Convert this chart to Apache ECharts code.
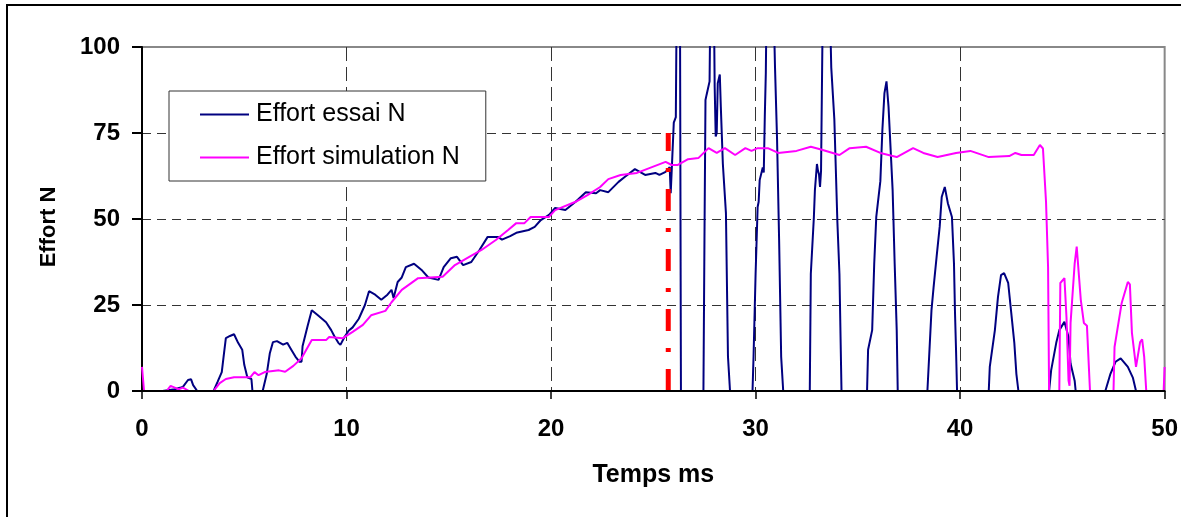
<!DOCTYPE html>
<html>
<head>
<meta charset="utf-8">
<script src="https://cdn.jsdelivr.net/npm/echarts@6/dist/echarts.min.js"></script>
<style>
  html, body { margin: 0; padding: 0; background: #fff; }
  #chart { width: 1181px; height: 517px; }
</style>
</head>
<body>
<div id="chart"></div>
<script>
var dom = document.getElementById("chart");
var myChart = echarts.init(dom);

var FONT = "'Liberation Sans', Arial, sans-serif";

// Temps (ms), Effort (N) - essai
var essaiData = [
    [0, 0], [1.0, 0], [1.6, 0.5], [1.9, 1], [2.0, 1.2], [2.25, 3.2], [2.4, 3.4], [2.5, 1.7], [2.7, 0], [3.5, 0],
    [3.7, 2.7], [3.9, 5.5], [4.0, 10.5], [4.1, 15.4], [4.3, 16], [4.5, 16.5], [4.7, 14], [4.9, 12], [5.0, 7.6],
    [5.15, 4], [5.35, 3.5], [5.4, 0], [5.9, 0],
    [6.1, 5], [6.25, 11], [6.4, 14.2], [6.6, 14.5], [6.9, 13.5], [7.1, 14], [7.3, 12], [7.5, 10], [7.7, 8.5], [7.8, 8.5],
    [7.85, 13], [8.1, 19], [8.3, 23.5], [8.6, 22], [8.8, 21], [9.0, 20], [9.25, 17.7], [9.4, 16], [9.6, 14],
    [9.7, 13.4], [9.9, 15.7], [10.1, 17.5], [10.3, 18.5], [10.6, 21], [10.9, 25], [11.1, 29], [11.4, 28],
    [11.7, 26.5], [12.0, 28], [12.2, 29.4], [12.3, 27], [12.5, 31.7], [12.7, 33], [12.9, 36], [13.3, 37],
    [13.7, 35], [14.0, 33], [14.5, 32.3], [14.75, 36], [15.1, 38.6], [15.4, 39], [15.7, 36.6], [16.1, 37.5],
    [16.5, 41], [16.9, 44.8], [17.4, 44.8], [17.6, 44], [18.0, 45], [18.3, 46], [18.9, 46.8], [19.2, 47.7],
    [19.5, 49.7], [19.9, 51.2], [20.2, 53.2], [20.7, 52.6], [21.2, 55], [21.7, 57.8], [22.2, 57.5], [22.4, 58.4],
    [22.8, 57.8], [23.3, 60.8], [23.6, 62.2], [24.1, 64.5], [24.6, 62.8], [25.1, 63.4], [25.3, 62.8], [25.6, 63.7],
    [25.8, 65.1], [25.85, 57.5], [25.9, 64.2], [26.0, 78], [26.1, 79.6], [26.15, 120],
    [26.3, 120], [26.35, 0], [27.45, 0],
    [27.5, 44], [27.55, 84.6], [27.6, 86], [27.75, 90], [27.8, 120], [27.95, 120], [28.0, 88.4], [28.05, 74],
    [28.1, 75], [28.15, 89.5], [28.25, 92], [28.3, 82.6], [28.4, 66], [28.55, 51.7], [28.65, 10], [28.75, 0],
    [29.85, 0], [29.9, 10], [30.0, 34], [30.1, 53.5], [30.15, 55], [30.2, 61.3], [30.35, 65], [30.4, 63.5],
    [30.45, 79.7], [30.5, 92.4], [30.55, 120], [30.85, 120], [30.95, 94], [31.05, 73], [31.15, 44], [31.25, 10], [31.35, 0],
    [32.65, 0], [32.7, 34], [32.85, 50.6], [32.9, 58.4], [33.0, 66], [33.05, 64], [33.1, 63], [33.15, 59.3],
    [33.2, 64], [33.3, 120], [33.6, 120], [33.7, 94], [33.85, 79], [34.0, 49], [34.1, 34], [34.2, 0],
    [35.45, 0], [35.5, 12], [35.7, 17.7], [35.8, 37], [35.9, 50.6], [36.1, 61], [36.2, 76], [36.3, 86.6],
    [36.4, 90], [36.5, 82.6], [36.7, 58.4], [36.8, 37], [36.9, 17.7], [36.95, 0],
    [38.4, 0], [38.6, 23.5], [38.7, 30], [38.85, 39], [39.0, 47.7], [39.1, 56.4], [39.25, 59.3], [39.4, 54.6],
    [39.6, 50.6], [39.7, 37], [39.75, 22.7], [39.8, 12], [39.85, 0],
    [41.4, 0], [41.45, 7], [41.7, 17.7], [41.85, 27.3], [42.0, 33.7], [42.15, 34.3], [42.35, 31.4], [42.5, 22.7],
    [42.65, 14], [42.75, 5], [42.85, 0],
    [44.35, 0], [44.45, 6], [44.7, 14], [44.85, 17.7], [45.1, 20.1], [45.3, 15.7], [45.4, 8], [45.6, 3], [45.65, 0],
    [47.1, 0], [47.35, 5], [47.6, 8.5], [47.85, 9.5], [48.2, 7], [48.45, 3.8], [48.6, 0], [50, 0]
];

// Temps (ms), Effort (N) - simulation
var simulationData = [
    [0, 7], [0.1, 0], [1.2, 0], [1.4, 1.5], [1.6, 1], [1.8, 0.5], [2.0, 1], [2.3, 0], [3.5, 0], [3.8, 2.3],
    [4.1, 3.5], [4.5, 4], [5.3, 4], [5.5, 5.5], [5.7, 4.6], [6.0, 5.5], [6.7, 6], [7.0, 5.6], [7.4, 7.3],
    [7.8, 9.5], [8.3, 14.8], [9.0, 14.8], [9.15, 15.7], [9.8, 15.3], [10.3, 17.2], [10.8, 19.2], [11.2, 22],
    [11.9, 23.3], [12.2, 25.8], [12.7, 29.4], [13.5, 32.8], [14.7, 33.2], [15.3, 36.6], [16.0, 39], [16.6, 41],
    [17.3, 43.9], [17.9, 46.8], [18.3, 48.8], [18.7, 48.8], [19.0, 50.6], [19.9, 50.6], [20.2, 52.6], [21.2, 55],
    [21.8, 57], [22.4, 59.3], [22.8, 61.6], [23.4, 62.8], [24.2, 63.4], [24.9, 65], [25.6, 66.6], [25.9, 65.7],
    [26.2, 65.7], [26.7, 67.4], [27.2, 67.7], [27.7, 70.6], [28.1, 69.2], [28.5, 70.6], [29.0, 68.6], [29.5, 70.6],
    [29.8, 69.8], [30.1, 70.6], [30.6, 70.6], [31.1, 69.2], [32.0, 69.8], [32.7, 71], [33.2, 70.2], [34.1, 68.6],
    [34.6, 70.6], [35.4, 71], [36.1, 69.2], [36.9, 68], [37.7, 70.6], [38.2, 69.2], [38.9, 68], [39.8, 69.2],
    [40.5, 69.8], [41.4, 68], [42.4, 68.3], [42.7, 69.2], [43.0, 68.6], [43.6, 68.6], [43.9, 71.5], [44.05, 70.5],
    [44.2, 55], [44.3, 36], [44.35, 0], [44.85, 0], [44.9, 31.4], [45.1, 32.8], [45.2, 21.5], [45.3, 3],
    [45.35, 1.5], [45.4, 19.8], [45.6, 37], [45.7, 42], [45.75, 42], [45.9, 26.5], [46.05, 19.8], [46.2, 19],
    [46.35, 0], [47.5, 0], [47.55, 12.8], [47.9, 25.6], [48.2, 31.7], [48.3, 31], [48.4, 16.9], [48.6, 7],
    [48.65, 7.5], [48.8, 14.2], [48.9, 15], [49.0, 9.9], [49.1, 0], [49.95, 0], [50, 7]
];

// repere vertical (trait rouge)
var repereData = [[25.73, 0], [25.73, 75]];

var option = {
    animation: false,
    backgroundColor: '#fff',
    graphic: [{
        type: 'rect',
        shape: {x: 7, y: 5, width: 1200, height: 600},
        style: {fill: 'none', stroke: '#000', lineWidth: 2},
        silent: true
    }],
    grid: {
        left: 142, top: 47, width: 1025, height: 344,
        show: true,
        borderColor: '#888',
        borderWidth: 2
    },
    legend: {
        orient: 'vertical',
        left: 169, top: 91,
        data: ['Effort essai N', 'Effort simulation N'],
        icon: 'rect',
        itemWidth: 49,
        itemHeight: 2,
        itemGap: 18,
        padding: [11, 26, 11, 31],
        backgroundColor: '#fff',
        borderColor: '#333',
        borderWidth: 1,
        textStyle: {fontFamily: FONT, fontSize: 25, color: '#000', padding: [0, 0, 0, 2]}
    },
    xAxis: [{
        type: 'value',
        min: 0, max: 50, interval: 10,
        name: 'Temps ms',
        nameLocation: 'middle',
        nameGap: 72,
        nameTextStyle: {fontFamily: FONT, fontSize: 25, fontWeight: 'bold', color: '#000'},
        axisLine: {show: false},
        axisTick: {show: true, length: 8, lineStyle: {color: '#000', width: 1.5}},
        axisLabel: {margin: 26, fontFamily: FONT, fontSize: 24, fontWeight: 'bold', color: '#000'},
        splitLine: {
            show: true, showMinLine: false, showMaxLine: false,
            lineStyle: {color: '#333', width: 1, type: [14, 6]}
        }
    }, {
        // trait d'axe au-dessus des courbes
        type: 'value',
        position: 'bottom',
        min: 0, max: 50,
        z: 10,
        axisLine: {show: true, onZero: false, lineStyle: {color: '#000', width: 2}},
        axisTick: {show: false},
        axisLabel: {show: false},
        splitLine: {show: false}
    }],
    yAxis: {
        type: 'value',
        min: 0, max: 100, interval: 25,
        name: 'Effort N',
        nameLocation: 'middle',
        nameRotate: 90,
        nameGap: 82,
        nameTextStyle: {fontFamily: FONT, fontSize: 22, fontWeight: 'bold', color: '#000', padding: [0, 16, 0, 0]},
        axisLine: {show: true, lineStyle: {color: '#000', width: 2}},
        axisTick: {show: true, length: 10, lineStyle: {color: '#000', width: 2}},
        axisLabel: {margin: 22, fontFamily: FONT, fontSize: 24, fontWeight: 'bold', color: '#000'},
        splitLine: {
            show: true, showMinLine: false, showMaxLine: false,
            lineStyle: {color: '#333', width: 1, type: [9, 6]}
        }
    },
    series: [{
        name: 'Effort essai N',
        type: 'line',
        data: essaiData,
        symbol: 'none',
        color: '#000080',
        lineStyle: {color: '#000080', width: 2}
    }, {
        name: 'Effort simulation N',
        type: 'line',
        data: simulationData,
        symbol: 'none',
        color: '#FF00FF',
        lineStyle: {color: '#FF00FF', width: 2}
    }, {
        name: 'repere',
        type: 'line',
        data: repereData,
        symbol: 'none',
        z: 5,
        silent: true,
        lineStyle: {color: '#FF0000', width: 5, type: [22, 17, 4, 17], cap: 'butt'}
    }]
};

myChart.setOption(option);
</script>
</body>
</html>
